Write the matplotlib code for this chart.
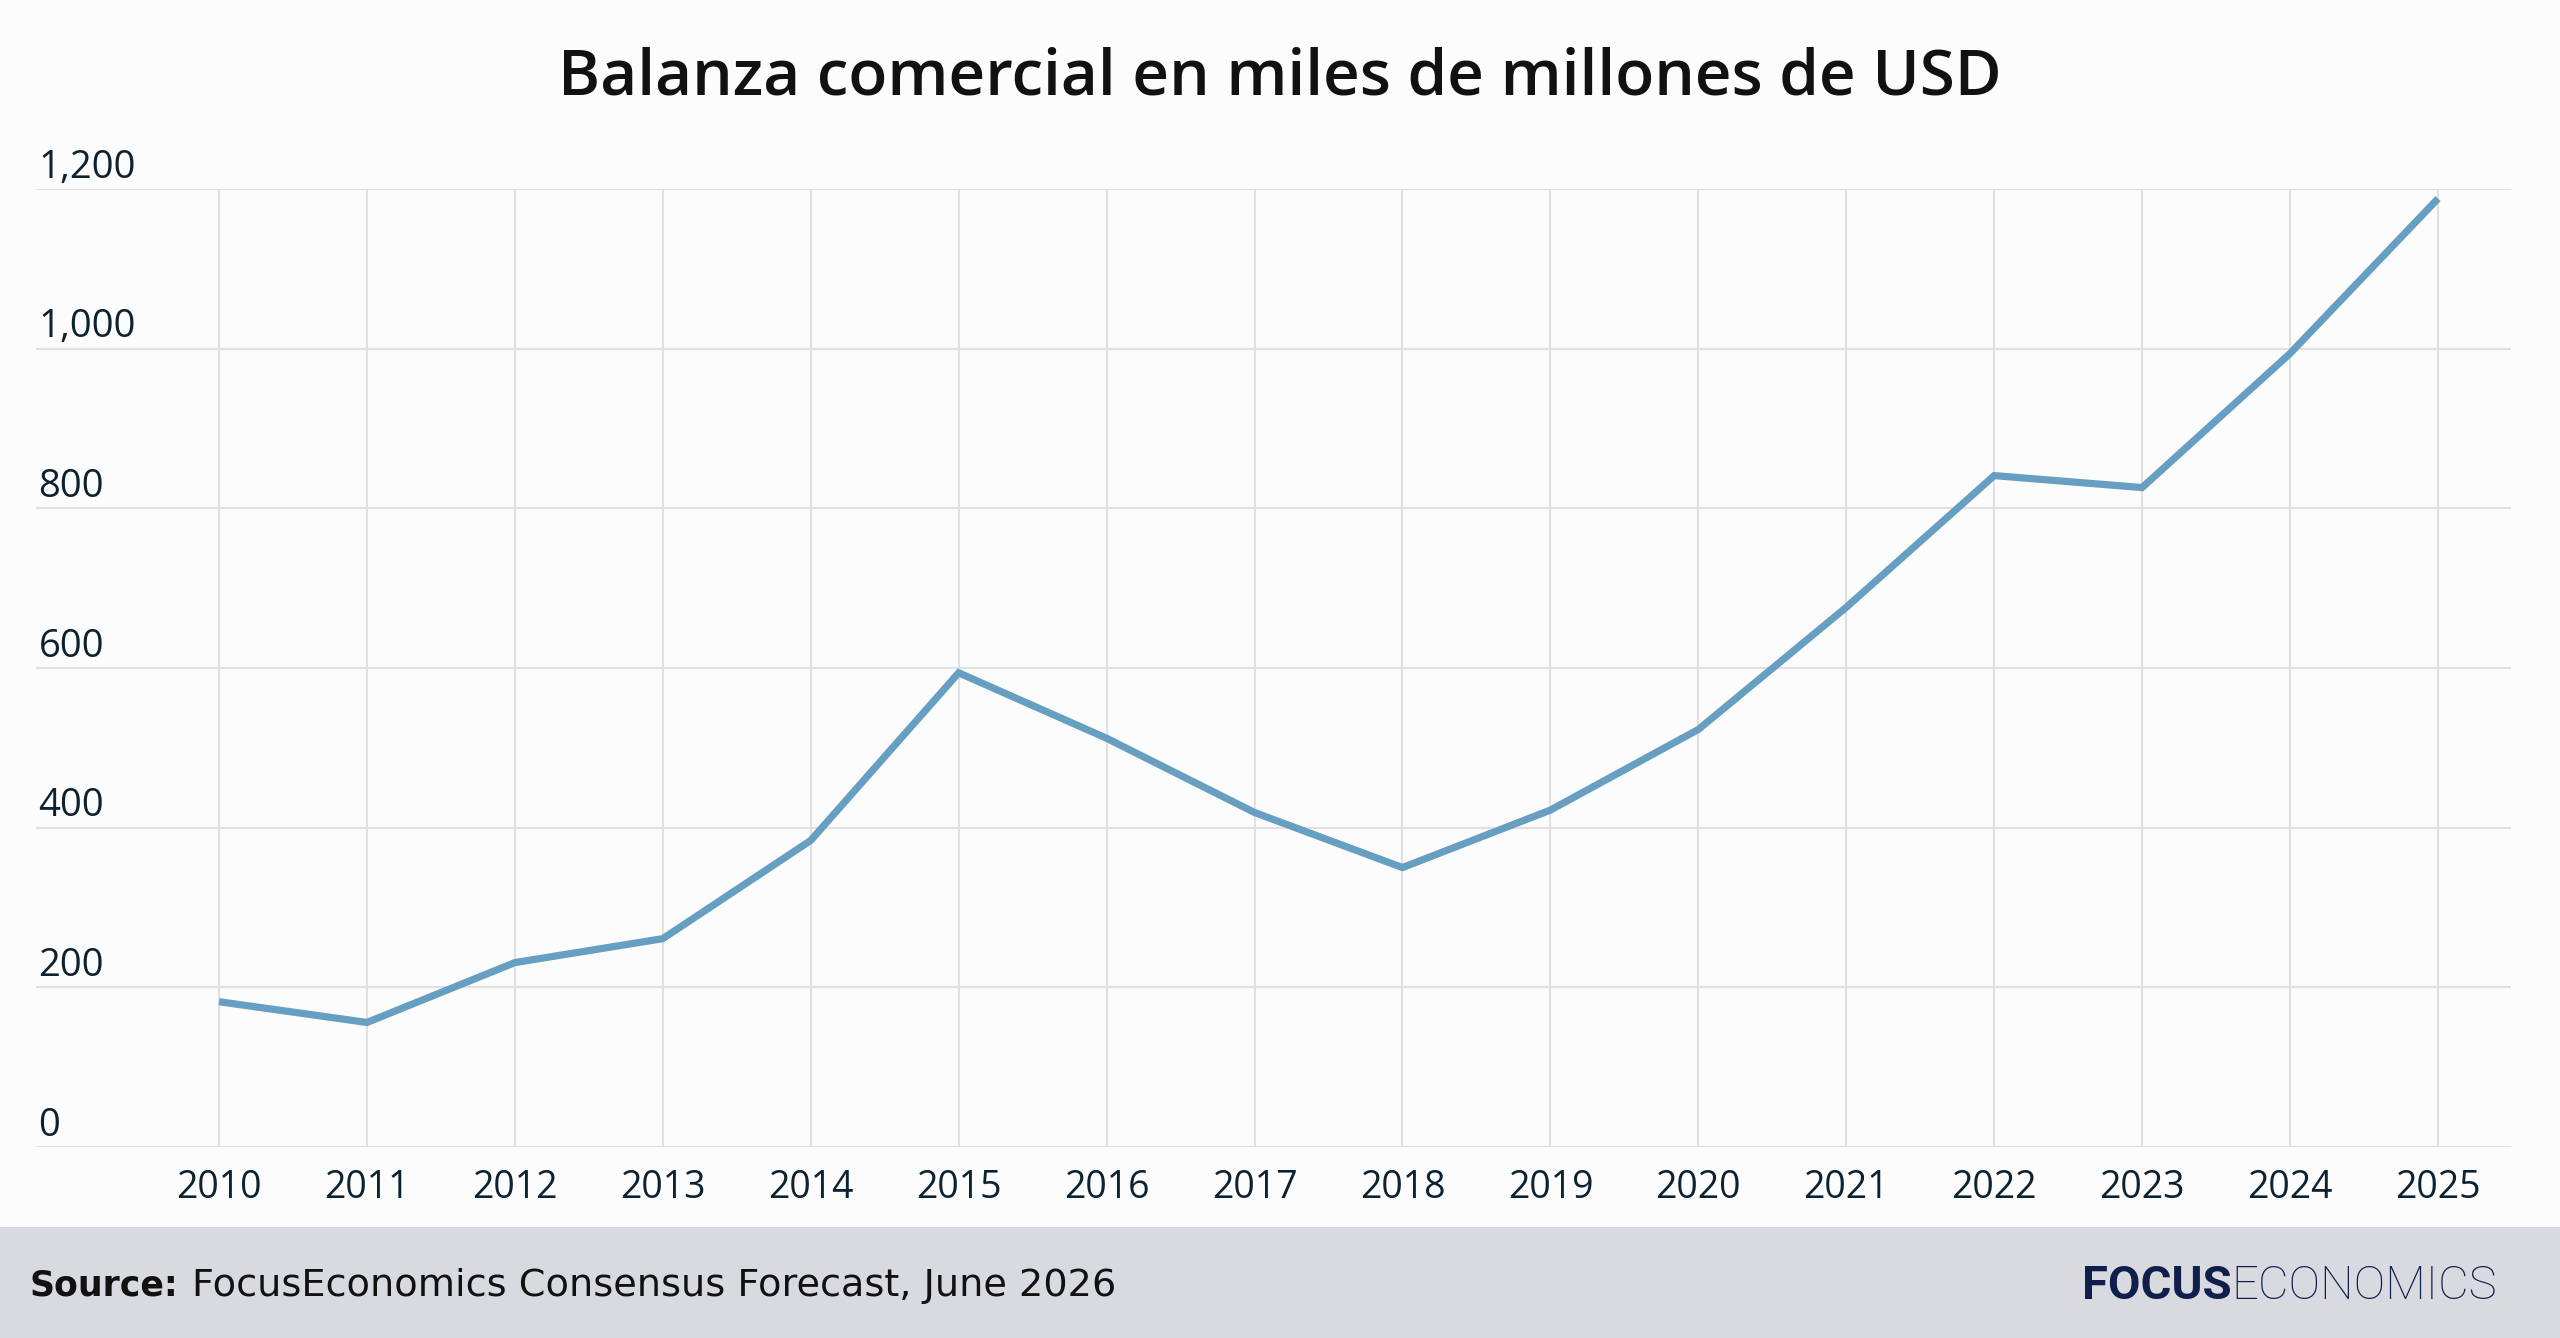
import matplotlib
matplotlib.use("Agg")
import matplotlib.pyplot as plt
from matplotlib.patches import Rectangle
from matplotlib.transforms import blended_transform_factory

# Data (billions of USD)
years = [2010, 2011, 2012, 2013, 2014, 2015, 2016, 2017,
         2018, 2019, 2020, 2021, 2022, 2023, 2024, 2025]
balance = [182, 156, 231, 261, 384, 594, 512, 419,
           350, 422, 523, 676, 841, 826, 994, 1188]
y_ticks = [0, 200, 400, 600, 800, 1000, 1200]
y_tick_labels = ["0", "200", "400", "600", "800", "1,000", "1,200"]

TITLE = "Balanza comercial en miles de millones de USD"
LINE_COLOR = "#669fc2"
GRID_COLOR = "#e1e1e1"
TEXT_COLOR = "#0d2230"
BG = "#fcfcfc"
FOOTER_BG = "#d9dadf"
NAVY = "#0e1f4b"

W, H = 2560, 1338
plt.rcParams["font.family"] = ["Open Sans", "DejaVu Sans"]

fig = plt.figure(figsize=(W / 100, H / 100), dpi=100, facecolor=BG)

# axes placed in pixel terms
left, right, top, bottom = 36, 2511, 189, 1147
ax = fig.add_axes([left / W, 1 - bottom / H, (right - left) / W, (bottom - top) / H])
ax.set_facecolor(BG)

ax.plot(years, balance, color=LINE_COLOR, linewidth=5.2, solid_joinstyle="miter",
        solid_capstyle="butt", zorder=3)

px_per_year = (2438 - 219) / 15
ax.set_xlim(2010 - (219 - left) / px_per_year, 2025 + (right - 2438) / px_per_year)
ax.set_ylim(0, 1200)

ax.set_xticks(years)
ax.set_xticklabels([str(y) for y in years])
ax.set_yticks(y_ticks)
ax.tick_params(axis="x", length=0, pad=16, labelsize=27, labelcolor=TEXT_COLOR)
ax.tick_params(axis="y", length=0, labelleft=False)
ax.grid(True, color=GRID_COLOR, linewidth=1.5, zorder=0)
for s in ax.spines.values():
    s.set_visible(False)

# y labels sit above their gridlines
trans = blended_transform_factory(ax.transAxes, ax.transData)
for v, lab in zip(y_ticks, y_tick_labels):
    ax.text(0.001, v + 14, lab, transform=trans, ha="left", va="baseline",
            fontsize=27.5, color=TEXT_COLOR)

fig.text(0.5, 1 - 78 / H, TITLE, ha="center", va="center",
         fontsize=46, fontweight="semibold", color="#111111")

# footer band
fig.patches.append(Rectangle((0, 0), 1, (H - 1227) / H, transform=fig.transFigure,
                             facecolor=FOOTER_BG, edgecolor="none", zorder=0))
fy = 1 - 1286 / H
fig.text(29 / W, fy, "Source:", ha="left", va="center", fontsize=25,
         fontweight="bold", color="#111111", family=["DejaVu Sans"])
fig.text(192 / W, fy, "FocusEconomics Consensus Forecast, June 2026", ha="left",
         va="center", fontsize=27.5, color="#111111", family=["DejaVu Sans"])

# logo text
fig.text(2082 / W, fy, "FOCUS", ha="left", va="center", fontsize=34,
         fontweight="bold", color=NAVY, family=["Roboto", "DejaVu Sans"])
fig.text(2231 / W, fy, "ECONOMICS", ha="left", va="center", fontsize=34,
         fontweight="light", color=NAVY, family=["Roboto", "DejaVu Sans"])

fig.savefig("out.png", dpi=100, facecolor=BG)
